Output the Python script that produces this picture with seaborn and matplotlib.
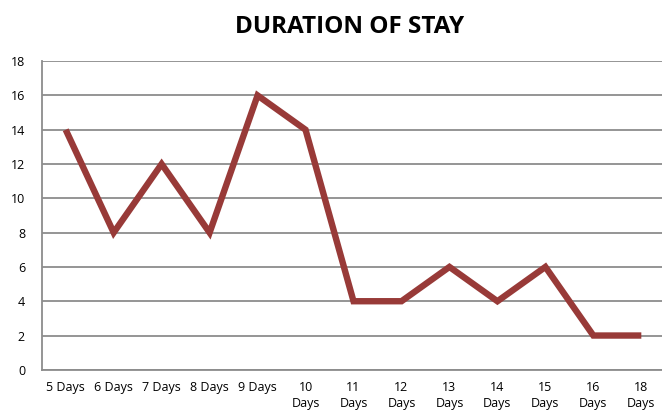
import matplotlib
matplotlib.use("Agg")
import matplotlib.pyplot as plt
import seaborn as sns

# duration of stay data
days = ["5 Days", "6 Days", "7 Days", "8 Days", "9 Days", "10\nDays", "11\nDays",
        "12\nDays", "13\nDays", "14\nDays", "15\nDays", "16\nDays", "18\nDays"]
counts = [14, 8, 12, 8, 16, 14, 4, 4, 6, 4, 6, 2, 2]
y_ticks = list(range(0, 19, 2))

sns.set_style("white")
plt.rcParams["font.family"] = ["Open Sans", "DejaVu Sans"]
plt.rcParams["text.color"] = "black"
plt.rcParams["xtick.color"] = "black"
plt.rcParams["ytick.color"] = "black"

fig = plt.figure(figsize=(6.62, 4.16), dpi=100)
ax = fig.add_axes([0.063, 0.111, 0.942, 0.742])

positions = list(range(len(days)))
sns.lineplot(x=positions, y=counts, ax=ax, color="#983a38", linewidth=4.6,
             solid_joinstyle="miter", solid_capstyle="butt")

ax.set_xlim(-0.5, len(days) - 0.5)
ax.set_ylim(0, 18)
ax.set_yticks(y_ticks)
ax.set_xticks(positions)
ax.set_xticklabels(days, fontsize=9, linespacing=1.3)
ax.tick_params(axis="y", labelsize=9, length=0, pad=12)
ax.tick_params(axis="x", length=0, pad=8)
ax.yaxis.grid(True, color="#8c8c8c", linewidth=1.3)
ax.set_axisbelow(True)
for side in ["top", "right"]:
    ax.spines[side].set_visible(False)
for side in ["left", "bottom"]:
    ax.spines[side].set_color("#8c8c8c")
    ax.spines[side].set_linewidth(1.3)

fig.text(0.528, 0.935, "DURATION OF STAY", ha="center", va="center",
         fontsize=17.5, fontweight="bold")

fig.savefig("out.png", dpi=100)
